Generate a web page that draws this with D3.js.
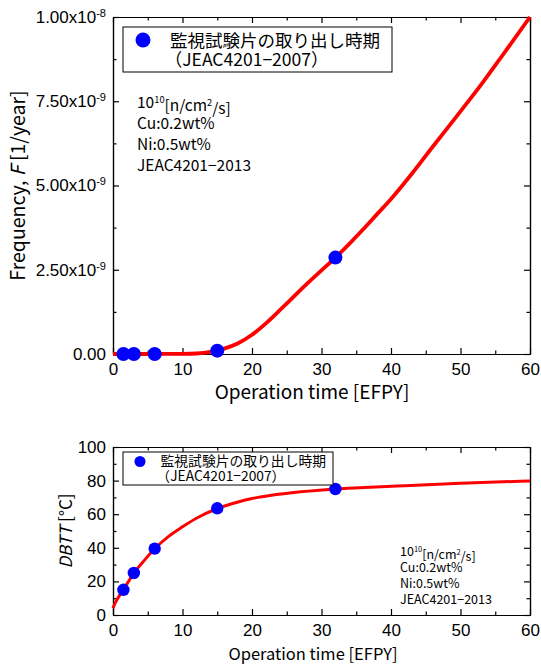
<!DOCTYPE html>
<html>
<head>
<meta charset="utf-8">
<script src="https://cdn.jsdelivr.net/npm/d3@7"></script>
<style>
  body { margin: 0; background: #fff; }
  svg { display: block; font-family: "Noto Sans CJK JP", "Noto Sans", sans-serif; }
</style>
</head>
<body>
<svg id="chart" width="541" height="665"></svg>
<script>
// x axis (both panels)
const xTicks = [0, 10, 20, 30, 40, 50, 60];
const xMinorTicks = [5, 15, 25, 35, 45, 55];

// top panel: frequency
const freqTicks = [0, 2.5e-9, 5e-9, 7.5e-9, 1e-8];
const freqMinorTicks = [1.25e-9, 3.75e-9, 6.25e-9, 8.75e-9];
const freqTickLabels = ["0.00", "2.50x10|-9", "5.00x10|-9", "7.50x10|-9", "1.00x10|-8"];

// top panel: curve (JEAC4201-2013)
const freqCurveYears = [0, 5, 10, 12, 14, 16, 18, 20, 22, 24, 26, 28, 30, 32, 34, 36, 38, 40, 43, 46, 50, 53, 56, 60];
const freqCurveValues = [0, 0, 0.003e-9, 0.015e-9, 0.06e-9, 0.16e-9, 0.32e-9, 0.57e-9, 0.91e-9, 1.3e-9, 1.7e-9, 2.1e-9, 2.48e-9, 2.86e-9, 3.27e-9, 3.7e-9, 4.15e-9, 4.6e-9, 5.35e-9, 6.15e-9, 7.2e-9, 8.0e-9, 8.85e-9, 1.0e-8];

// surveillance specimen withdrawal times
const specimenYears = [1.5, 3, 6, 15, 32];
const specimenFreq = [0, 0, 0, 0.1e-9, 2.86e-9];
const specimenDBTT = [15, 25, 39.5, 63.5, 75];

// bottom panel: DBTT
const dbttTicks = [0, 20, 40, 60, 80, 100];
const dbttMinorTicks = [10, 30, 50, 70, 90];
const dbttCurveYears = [0, 0.3, 0.7, 1.5, 3, 4.5, 6, 8, 10, 12, 15, 18, 20, 22.6, 27, 32, 37, 42, 50, 60];
const dbttCurveValues = [4, 7, 10, 15.2, 24.8, 32.5, 39.4, 46.8, 52.5, 57.6, 63.4, 67.3, 69.3, 71.1, 73.3, 75, 76.1, 77, 78.4, 79.8];

const legendLabel = "監視試験片の取り出し時期";
const legendSub = "（JEAC4201−2007）";
const noteLines = ["Cu:0.2wt%", "Ni:0.5wt%", "JEAC4201−2013"];

const svg = d3.select("#chart");

function drawPanel(o) {
  const x = d3.scaleLinear().domain([0, 60]).range([o.left, o.right]);
  const y = d3.scaleLinear().domain(o.yDomain).range([o.bottom, o.top]);
  const g = svg.append("g");

  // axes with inward ticks on all four sides
  const addAxis = (axis, tr) => g.append("g").attr("transform", tr).call(axis)
      .call(a => a.selectAll("path,line").attr("stroke", "#000").attr("stroke-width", 1.2));

  addAxis(d3.axisBottom(x).tickValues(xTicks).tickSizeInner(-6).tickSizeOuter(0).tickPadding(o.xPad).tickFormat(d3.format("d")),
      `translate(0,${o.bottom})`)
    .selectAll("text").attr("font-size", o.tickFont).attr("fill", "#000").attr("font-family", null);
  addAxis(d3.axisBottom(x).tickValues(xMinorTicks).tickSizeInner(-3.5).tickSizeOuter(0).tickFormat(""), `translate(0,${o.bottom})`);
  addAxis(d3.axisTop(x).tickValues(xTicks).tickSizeInner(-6).tickSizeOuter(0).tickFormat(""), `translate(0,${o.top})`);
  addAxis(d3.axisTop(x).tickValues(xMinorTicks).tickSizeInner(-3.5).tickSizeOuter(0).tickFormat(""), `translate(0,${o.top})`);

  const left = addAxis(d3.axisLeft(y).tickValues(o.yTicks).tickSizeInner(-6).tickSizeOuter(0).tickPadding(7),
      `translate(${o.left},0)`);
  left.selectAll("text").attr("font-size", o.tickFont).attr("fill", "#000").attr("font-family", null)
    .each(function(d, i) {
      const parts = o.yLabels[i].split("|");
      const t = d3.select(this).text(parts[0]);
      if (parts[1]) t.append("tspan").attr("dy", "-0.55em").attr("font-size", o.tickFont * 0.65).text(parts[1]);
    });
  addAxis(d3.axisLeft(y).tickValues(o.yMinor).tickSizeInner(-3.5).tickSizeOuter(0).tickFormat(""), `translate(${o.left},0)`);
  addAxis(d3.axisRight(y).tickValues(o.yTicks).tickSizeInner(-6).tickSizeOuter(0).tickFormat(""), `translate(${o.right},0)`);
  addAxis(d3.axisRight(y).tickValues(o.yMinor).tickSizeInner(-3.5).tickSizeOuter(0).tickFormat(""), `translate(${o.right},0)`);

  // red curve
  const line = d3.line().x(d => x(d[0])).y(d => y(d[1])).curve(d3.curveMonotoneX);
  g.append("path")
    .datum(d3.zip(o.curveX, o.curveY))
    .attr("d", line)
    .attr("fill", "none")
    .attr("stroke", "#ff0000")
    .attr("stroke-width", o.lineWidth);

  // specimen points
  g.selectAll(".pt")
    .data(d3.zip(specimenYears, o.pointsY))
    .enter().append("circle")
    .attr("cx", d => x(d[0]))
    .attr("cy", d => y(d[1]))
    .attr("r", o.pointR)
    .attr("fill", "#0000ff");

  // legend
  const lg = o.legend;
  g.append("rect").attr("x", lg.x).attr("y", lg.y).attr("width", lg.w).attr("height", lg.h)
    .attr("fill", "#fff").attr("stroke", "#000").attr("stroke-width", 1);
  g.append("circle").attr("cx", lg.x + lg.dotDx).attr("cy", lg.y + lg.dotDy).attr("r", lg.dotR).attr("fill", "#0000ff");
  g.append("text").attr("x", lg.x + lg.textDx).attr("y", lg.y + lg.line1).attr("font-size", lg.font).text(legendLabel);
  g.append("text").attr("x", lg.x + lg.textDx - lg.font * 0.3).attr("y", lg.y + lg.line2).attr("font-size", lg.font).text(legendSub);

  // condition note
  const nt = o.note;
  const first = g.append("text").attr("x", nt.x).attr("y", nt.y).attr("font-size", nt.font);
  first.append("tspan").text("10");
  first.append("tspan").attr("dy", "-0.5em").attr("font-size", nt.font * 0.6).text("10");
  first.append("tspan").attr("dy", "0.5em").text("[n/cm");
  first.append("tspan").attr("dy", "-0.5em").attr("font-size", nt.font * 0.6).text("2");
  first.append("tspan").attr("dy", "0.5em").text("/s]");
  noteLines.forEach((s, i) => {
    g.append("text").attr("x", nt.x).attr("y", nt.y + (i + 1) * nt.gap).attr("font-size", nt.font).text(s);
  });

  // axis titles
  g.append("text")
    .attr("x", o.xTitle.x).attr("y", o.xTitle.y)
    .attr("text-anchor", "middle").attr("font-size", o.xTitle.font)
    .text("Operation time [EFPY]");
  const yt = g.append("text")
    .attr("transform", `translate(${o.yTitle.x},${(o.top + o.bottom) / 2}) rotate(-90)`)
    .attr("text-anchor", "middle").attr("font-size", o.yTitle.font);
  o.yTitle.parts.forEach(p => yt.append("tspan").attr("font-style", p[1] ? "italic" : null).text(p[0]));
}

// top panel
drawPanel({
  left: 113, right: 530, top: 17, bottom: 354,
  yDomain: [0, 1e-8], yTicks: freqTicks, yMinor: freqMinorTicks, yLabels: freqTickLabels,
  tickFont: 17, xPad: 9,
  curveX: freqCurveYears, curveY: freqCurveValues, pointsY: specimenFreq,
  lineWidth: 3.8, pointR: 7,
  legend: { x: 123, y: 27, w: 269, h: 45, dotDx: 20, dotDy: 13, dotR: 7.5, textDx: 47, line1: 20, line2: 39, font: 17.5 },
  note: { x: 137, y: 108, font: 15.5, gap: 21 },
  xTitle: { x: 312, y: 399, font: 19 },
  yTitle: { x: 25, font: 19.5, parts: [["Frequency, ", false], ["F", true], ["  [1/year]", false]] }
});

// bottom panel
drawPanel({
  left: 113, right: 530, top: 447, bottom: 615,
  yDomain: [0, 100], yTicks: dbttTicks, yMinor: dbttMinorTicks, yLabels: dbttTicks.map(String),
  tickFont: 17, xPad: 9,
  curveX: dbttCurveYears, curveY: dbttCurveValues, pointsY: specimenDBTT,
  lineWidth: 3, pointR: 6.2,
  legend: { x: 123, y: 452, w: 210, h: 33, dotDx: 17, dotDy: 9.5, dotR: 5.5, textDx: 37.5, line1: 14, line2: 29, font: 13.8 },
  note: { x: 400, y: 556, font: 12.5, gap: 16 },
  xTitle: { x: 313, y: 660, font: 16.5 },
  yTitle: { x: 72, font: 17, parts: [["DBTT", true], [" [°C]", false]] }
});
</script>
</body>
</html>
